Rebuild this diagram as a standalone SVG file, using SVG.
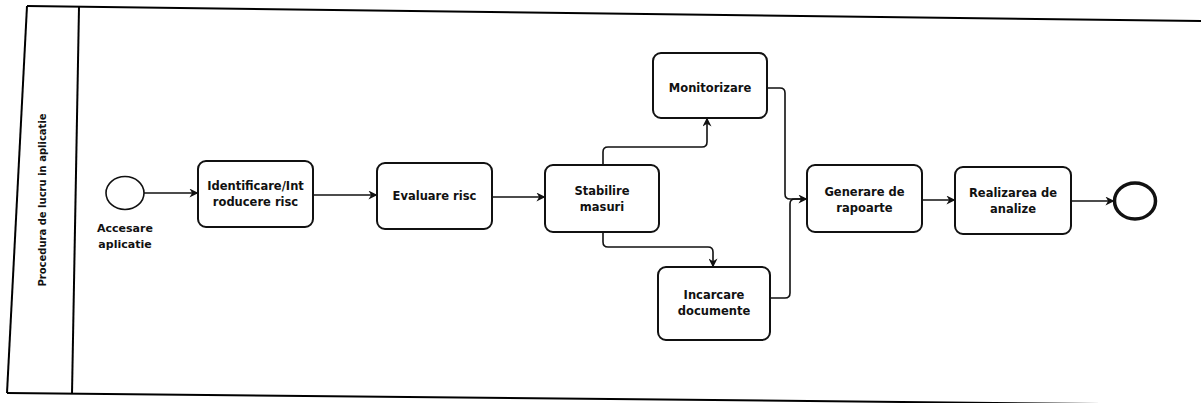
<svg xmlns="http://www.w3.org/2000/svg" width="1201" height="403" viewBox="0 0 1201 403">
  <style>
    .pool { fill: none; stroke: #000; stroke-width: 2; }
    .task rect { fill: #fff; stroke: #111; stroke-width: 2; }
    .lbl { font-family: "DejaVu Sans", "Liberation Sans", sans-serif; font-weight: bold; font-size: 11.5px; fill: #111; text-anchor: middle; }
    .conn path { fill: none; stroke: #111; stroke-width: 1.6; }
  </style>
  <defs>
    <marker id="arr" viewBox="0 0 10 10" refX="9.5" refY="5" markerWidth="9" markerHeight="9" markerUnits="userSpaceOnUse" orient="auto">
      <path d="M0,0 L10,5 L0,10 L3,5 z" fill="#111"/>
    </marker>
  </defs>
  <rect width="1201" height="403" fill="#fff"/>

  <g id="pool">
    <path class="pool" d="M27,6 L1201,21"/>
    <path class="pool" d="M27,6 L7,393" stroke-width="2.5"/>
    <path class="pool" d="M7,393 L1201,405"/>
    <path class="pool" d="M79,7 L72,394" stroke-width="1.6"/>
    <text class="lbl" style="font-size:10px" transform="translate(46,200) rotate(-90)">Procedura de lucru in aplicatie</text>
  </g>

  <g class="conn" id="connectors">
    <path d="M144,193 L198,193" marker-end="url(#arr)"/>
    <path d="M313,195 L377,195" marker-end="url(#arr)"/>
    <path d="M492,197 L545,197" marker-end="url(#arr)"/>
    <path d="M603,165 L603,152 Q603,147 608,147 L702,147 Q707,147 707,142 L707,118" marker-end="url(#arr)"/>
    <path d="M603,232 L603,242 Q603,247 608,247 L708,247 Q713,247 713,252 L713,267" marker-end="url(#arr)"/>
    <path d="M767,88 L780,88 Q785,88 785,93 L785,194 Q785,199 790,199 L807,199" marker-end="url(#arr)"/>
    <path d="M770,298 L785,298 Q790,298 790,293 L790,204 Q790,199 795,199 L807,199"/>
    <path d="M922,200 L955,200" marker-end="url(#arr)"/>
    <path d="M1072,201 L1114,201" marker-end="url(#arr)"/>
  </g>

  <g id="start">
    <ellipse cx="125" cy="193" rx="19" ry="16.5" fill="#fff" stroke="#111" stroke-width="1.6"/>
    <text class="lbl" style="font-size:11px" x="125" y="232">Accesare</text>
    <text class="lbl" style="font-size:11px" x="125" y="248">aplicatie</text>
  </g>

  <g id="identificare" class="task">
    <rect x="198" y="161" width="115" height="66" rx="8"/>
    <text class="lbl" x="255.5" y="190">Identificare/Int</text>
    <text class="lbl" x="255.5" y="206">roducere risc</text>
  </g>

  <g id="evaluare" class="task">
    <rect x="377" y="163" width="115" height="66" rx="8"/>
    <text class="lbl" x="434.5" y="200">Evaluare risc</text>
  </g>

  <g id="stabilire" class="task">
    <rect x="545" y="165" width="114" height="67" rx="8"/>
    <text class="lbl" x="602" y="195">Stabilire</text>
    <text class="lbl" x="602" y="211">masuri</text>
  </g>

  <g id="monitorizare" class="task">
    <rect x="653" y="53" width="114" height="65" rx="8"/>
    <text class="lbl" x="710" y="92">Monitorizare</text>
  </g>

  <g id="incarcare" class="task">
    <rect x="658" y="267" width="112" height="73" rx="8"/>
    <text class="lbl" x="714" y="299">Incarcare</text>
    <text class="lbl" x="714" y="315">documente</text>
  </g>

  <g id="generare" class="task">
    <rect x="807" y="165" width="115" height="67" rx="8"/>
    <text class="lbl" x="864.5" y="196">Generare de</text>
    <text class="lbl" x="864.5" y="212">rapoarte</text>
  </g>

  <g id="realizarea" class="task">
    <rect x="955" y="167" width="116" height="67" rx="8"/>
    <text class="lbl" x="1013" y="197">Realizarea de</text>
    <text class="lbl" x="1013" y="213">analize</text>
  </g>

  <g id="end">
    <ellipse cx="1135" cy="201" rx="20.5" ry="18" fill="#fff" stroke="#111" stroke-width="3.5"/>
  </g>
</svg>
